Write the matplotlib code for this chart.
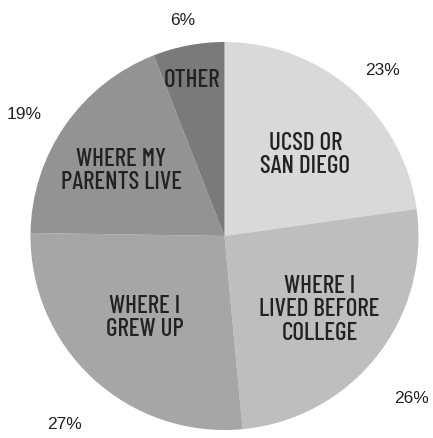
import matplotlib
matplotlib.use('Agg')
import matplotlib.pyplot as plt
import numpy as np

# data
categories = ['UCSD OR\nSAN DIEGO', 'WHERE I\nLIVED BEFORE\nCOLLEGE', 'WHERE I\nGREW UP',
              'WHERE MY\nPARENTS LIVE', 'OTHER']
shares = [23, 26, 27, 19, 6]
pct_labels = ['23%', '26%', '27%', '19%', '6%']

colors = ['#d9d9d9', '#bebebe', '#a6a6a6', '#939393', '#7a7a7a']
# label placement: radius (in pie radii) and angle shift (deg) from wedge middle
inner_dist = [0.59, 0.62, 0.59, 0.63, 0.82]
inner_shift = [-4, 0.5, -1.5, 2.5, 1]
outer_dist = [1.18, 1.275, 1.276, 1.21, 1.134]
outer_shift = [-2.6, -2.6, 2.5, 3.5, 0.3]

fig = plt.figure(figsize=(4.33, 4.38), dpi=100)
ax = fig.add_axes([0, 0, 1, 1])

wedges, _ = ax.pie(shares, colors=colors, startangle=90, counterclock=False,
                   wedgeprops=dict(linewidth=0))

label_font = ['Barlow Condensed', 'DejaVu Sans']
for i, w in enumerate(wedges):
    mid = (w.theta1 + w.theta2) / 2
    a = np.deg2rad(mid + inner_shift[i])
    ax.text(inner_dist[i] * np.cos(a), inner_dist[i] * np.sin(a), categories[i],
            ha='center', va='center', fontsize=18, color='#222222',
            family=label_font, weight=500, linespacing=1.02)
    a = np.deg2rad(mid + outer_shift[i])
    ax.text(outer_dist[i] * np.cos(a), outer_dist[i] * np.sin(a), pct_labels[i],
            ha='center', va='center', fontsize=12.5, color='#222222',
            family=['Liberation Sans', 'DejaVu Sans'])

ax.set_aspect('auto')
ax.set_xlim(-224.5 / 194, (433 - 224.5) / 194)
ax.set_ylim(-(438 - 236) / 194, 236 / 194)
ax.axis('off')

fig.savefig('out.png', dpi=100, facecolor='white')
